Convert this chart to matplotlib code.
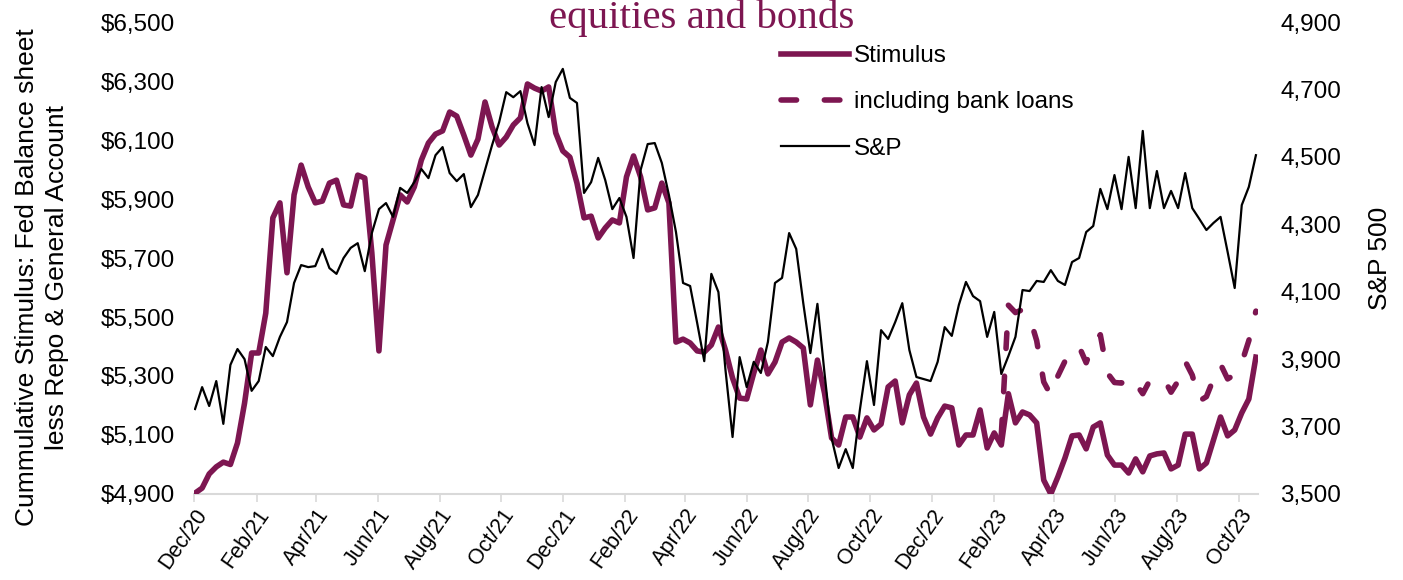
import matplotlib
matplotlib.use("Agg")
import matplotlib.pyplot as plt
import matplotlib.dates as mdates
from matplotlib.ticker import FuncFormatter
import pandas as pd

# weekly observations, first week of Dec 2020 to mid Oct 2023
dates = pd.date_range("2020-12-02", periods=151, freq="7D")

# cumulative stimulus, $bn (left axis)
stimulus = [
    4903, 4920, 4968, 4992, 5008, 5000, 5073, 5208, 5378, 5378,
    5513, 5836, 5887, 5650, 5914, 6015, 5941, 5887, 5893, 5954,
    5964, 5880, 5876, 5981, 5971, 5717, 5385, 5744, 5829, 5914,
    5890, 5941, 6032, 6090, 6120, 6131, 6195, 6181, 6117, 6049,
    6103, 6229, 6144, 6083, 6110, 6151, 6175, 6290, 6276, 6266,
    6280, 6124, 6063, 6042, 5954, 5836, 5842, 5768, 5802, 5829,
    5819, 5975, 6046, 5975, 5863, 5870, 5954, 5887, 5415, 5425,
    5412, 5385, 5381, 5405, 5466, 5388, 5293, 5225, 5222, 5310,
    5388, 5307, 5347, 5415, 5429, 5415, 5395, 5202, 5354, 5242,
    5090, 5066, 5161, 5161, 5093, 5158, 5117, 5137, 5263, 5283,
    5141, 5236, 5276, 5161, 5103, 5158, 5198, 5192, 5066, 5100,
    5100, 5185, 5056, 5107, 5066, 5240, 5141, 5178, 5168, 5141,
    4947, 4900, 4958, 5022, 5097, 5100, 5053, 5127, 5141, 5032,
    4998, 4998, 4971, 5019, 4975, 5029, 5036, 5039, 4985, 4998,
    5103, 5103, 4985, 5005, 5083, 5161, 5097, 5117, 5175, 5222,
    5364,
]

# stimulus including bank loans, starts March 2023 (left axis)
bank_start = 114
bank_loans = [
    5100, 5540, 5515, 5525, 5500, 5420, 5280, 5235, 5300, 5350,
    5390, 5400, 5345, 5410, 5440, 5310, 5278, 5276, 5300, 5275,
    5240, 5285, 5293, 5290, 5245, 5283, 5350, 5303, 5215, 5230,
    5290, 5340, 5290, 5305, 5345, 5420, 5520,
]

# S&P 500 index (right axis)
spx = [
    3752, 3817, 3761, 3835, 3708, 3883, 3930, 3900, 3806, 3835,
    3936, 3909, 3966, 4010, 4126, 4179, 4173, 4176, 4227, 4170,
    4153, 4200, 4230, 4244, 4161, 4274, 4345, 4363, 4322, 4408,
    4393, 4425, 4464, 4437, 4505, 4529, 4452, 4428, 4449, 4351,
    4387, 4461, 4535, 4603, 4692, 4677, 4695, 4600, 4535, 4707,
    4618, 4722, 4761, 4675, 4660, 4393, 4425, 4497, 4431, 4345,
    4378, 4322, 4200, 4461, 4538, 4541, 4482, 4387, 4277, 4126,
    4117, 4007, 3894, 4153, 4099, 3868, 3669, 3906, 3817, 3892,
    3859, 3951, 4126, 4141, 4274, 4227, 4066, 3918, 4064, 3859,
    3666, 3577, 3633, 3577, 3749, 3894, 3764, 3986, 3960, 4010,
    4066, 3927, 3847, 3841, 3835, 3892, 3995, 3969, 4061, 4129,
    4087, 4072, 3966, 4040, 3856, 3909, 3966, 4105, 4102, 4132,
    4129, 4164, 4132, 4120, 4188, 4200, 4277, 4295, 4405, 4345,
    4446, 4345, 4500, 4348, 4577, 4348, 4458, 4348, 4399, 4348,
    4452, 4348, 4316, 4283, 4304, 4322, 4218, 4111, 4357, 4411,
    4505,
]

left_ticks = list(range(4900, 6501, 200))
right_ticks = list(range(3500, 4901, 200))

purple = "#7D1651"
plt.rcParams["font.family"] = ["Liberation Sans", "DejaVu Sans"]

fig = plt.figure(figsize=(14.03, 5.8), dpi=100)
ax = fig.add_axes([0.1383, 0.1483, 0.7583, 0.8137])
ax2 = ax.twinx()

# lines
l1, = ax.plot(dates, stimulus, color=purple, lw=4, label="Stimulus",
              solid_joinstyle="round", zorder=3)
l2, = ax.plot(dates[bank_start:], bank_loans, color=purple, lw=4,
              dashes=(2.8, 5), dash_capstyle="round",
              label="including bank loans", zorder=3)
l3, = ax2.plot(dates, spx, color="black", lw=1.6, label="S&P", zorder=2)

# left axis
ax.set_ylim(4900, 6500)
ax.set_yticks(left_ticks)
ax.yaxis.set_major_formatter(FuncFormatter(lambda v, p: f"${v:,.0f}"))

# right axis
ax2.set_ylim(3500, 4900)
ax2.set_yticks(right_ticks)
ax2.yaxis.set_major_formatter(FuncFormatter(lambda v, p: f"{v:,.0f}"))

# axis titles
fig.text(0.030, 0.522, "Cummulative Stimulus: Fed Balance sheet\nless Repo & General Account",
         rotation=90, fontsize=19, ha="center", va="center", ma="center",
         linespacing=1.3)
fig.text(0.9836, 0.555, "S&P 500", rotation=90, fontsize=19,
         ha="center", va="center")

# x axis
ax.set_xlim(pd.Timestamp("2020-12-01"), pd.Timestamp("2023-10-20"))
ax.xaxis.set_major_locator(mdates.MonthLocator(bymonth=[12, 2, 4, 6, 8, 10]))
ax.xaxis.set_major_formatter(mdates.DateFormatter("%b/%y"))
for lab in ax.get_xticklabels():
    lab.set_rotation(55)
    lab.set_ha("right")
    lab.set_rotation_mode("anchor")

for a in (ax, ax2):
    for s in ("top", "left", "right", "bottom"):
        a.spines[s].set_visible(False)
    a.tick_params(axis="y", length=0, labelsize=17.5)
ax.tick_params(axis="y", pad=14)
ax2.tick_params(axis="y", pad=16)
ax.spines["bottom"].set_visible(True)
ax.spines["bottom"].set_color("#D9D9D9")
ax.spines["bottom"].set_linewidth(1.5)
ax.tick_params(axis="x", direction="out", length=6, width=1.2, color="#D9D9D9",
               labelsize=15.5, pad=2)

# legend
fig.legend(handles=[l1, l2, l3], loc="upper left", bbox_to_anchor=(0.541, 0.96),
           frameon=False, fontsize=17.5, handlelength=2.8, labelspacing=1.0,
           handletextpad=0.2)

# title (partly shown at top)
fig.text(0.50, 0.952, "equities and bonds", color=purple, fontsize=29.5,
         family="Liberation Serif", ha="center", va="baseline")

fig.savefig("out.png", dpi=100)
